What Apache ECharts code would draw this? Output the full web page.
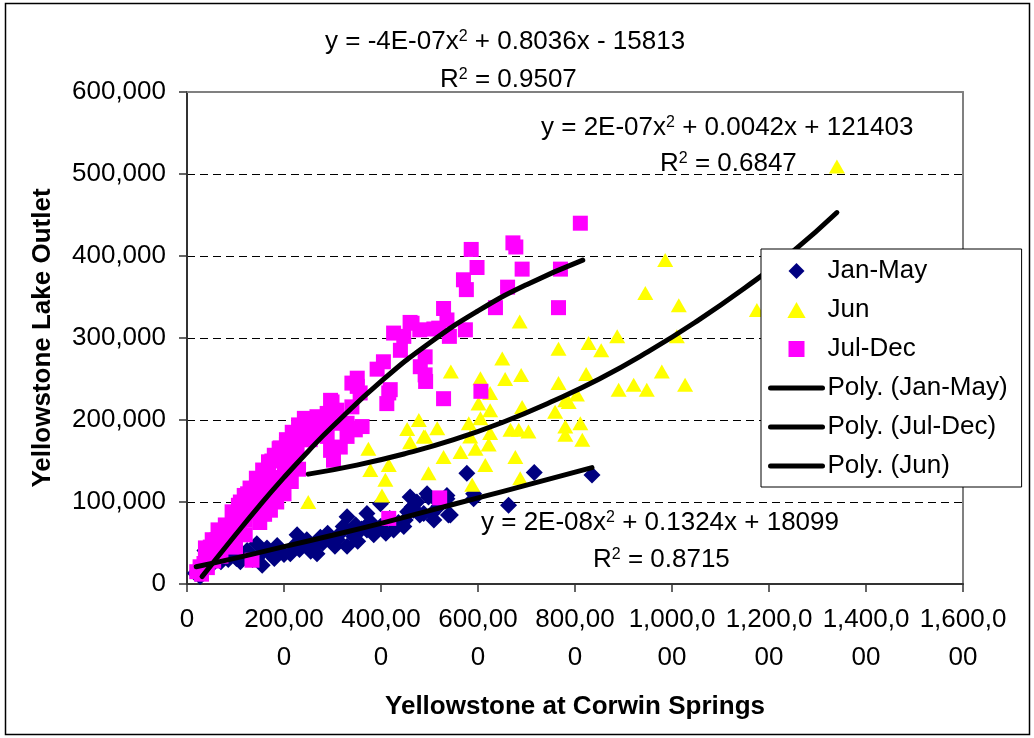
<!DOCTYPE html>
<html>
<head>
<meta charset="utf-8">
<script src="https://cdn.jsdelivr.net/npm/echarts@6/dist/echarts.min.js"></script>
<style>
html,body{margin:0;padding:0;background:#fff;}
#chart{width:1034px;height:738px;}
</style>
</head>
<body>
<div id="chart"></div>
<script>
// ---------- DATA ----------
const X_TICK_VALUES = [0, 200000, 400000, 600000, 800000, 1000000, 1200000, 1400000, 1600000];
const X_TICK_LABELS = ['0', '200,00\n0', '400,00\n0', '600,00\n0', '800,00\n0', '1,000,0\n00', '1,200,0\n00', '1,400,0\n00', '1,600,0\n00'];
const Y_TICK_VALUES = [0, 100000, 200000, 300000, 400000, 500000, 600000];
const Y_TICK_LABELS = ['0', '100,000', '200,000', '300,000', '400,000', '500,000', '600,000'];

const SERIES_NAMES = ['Jan-May', 'Jun', 'Jul-Dec'];
const TREND_NAMES = ['Poly. (Jan-May)', 'Poly. (Jul-Dec)', 'Poly. (Jun)'];

const janMay = [
  [17000,13000],[27000,9000],[24000,20000],[37000,41000],[44000,29000],[52000,24000],[62000,33000],
  [70000,27000],[85000,30000],[95000,36000],[110000,27000],[118000,33000],[124000,41000],[135000,30000],
  [144000,49000],[150000,35000],[155000,23000],[165000,44000],[172000,37000],[180000,31000],[192000,41000],
  [200000,36000],[213000,37000],[220000,46000],[227000,60000],[238000,50000],[247000,54000],[255000,40000],
  [261000,45000],[268000,37000],[280000,50000],[290000,62000],[296000,54000],[305000,46000],[316000,62000],
  [322000,70000],[330000,82000],[330000,46000],[338000,65000],[344000,58000],[352000,52000],[360000,67000],
  [371000,86000],[371000,66000],[385000,60000],[399000,70000],[399000,98000],[410000,62000],[426000,66000],
  [436000,75000],[447000,70000],[450000,78000],[460000,106000],[464000,94000],[467000,90000],[480000,84000],
  [488000,86000],[495000,110000],[498000,106000],[505000,86000],[509000,78000],[520000,95000],[536000,104000],
  [536000,108000],[539000,84000],[543000,84000],[577000,135000],[591000,110000],[591000,104000],[663000,96000],
  [716000,136000],[835000,133000],
  [78000,38000],[102000,31000],[128000,36000],[186000,47000],[232000,42000],[275000,57000],[310000,54000],
  [348000,72000],[378000,76000],[418000,80000],[455000,88000],[474000,100000],[514000,102000]
];

const jun = [
  [250000,100000],[374000,165000],[378000,139000],[409000,127000],[402000,108000],[416000,145000],
  [454000,189000],[478000,200000],[460000,173000],[488000,180000],[516000,190000],[491000,180000],
  [498000,135000],[529000,155000],[544000,259000],[564000,161000],[581000,196000],[584000,180000],
  [595000,165000],[588000,121000],[601000,220000],[605000,202000],[605000,251000],[615000,145000],
  [622000,170000],[625000,233000],[625000,212000],[625000,184000],[650000,275000],[656000,250000],
  [667000,188000],[677000,155000],[684000,188000],[686000,320000],[687000,129000],[689000,255000],
  [691000,216000],[704000,186000],[759000,210000],[766000,287000],[766000,245000],[780000,224000],
  [780000,192000],[780000,182000],[787000,222000],[804000,231000],[811000,196000],[815000,176000],
  [823000,256000],[828000,294000],[854000,285000],[887000,302000],[890000,237000],[921000,243000],
  [945000,355000],[948000,237000],[979000,259000],[986000,395000],[1010000,302000],[1014000,340000],
  [1027000,243000],[1175000,334000],[1340000,509000]
];

const julDec = [
  [20000,15000],[27000,21000],[30000,12000],[35000,25000],[38000,33000],[42000,20000],[48000,45000],
  [52000,35000],[55000,28000],[62000,54000],[66000,42000],[70000,34000],[76000,62000],[80000,50000],
  [89000,70000],[92000,58000],[95000,85000],[100000,45000],[103000,82000],[108000,68000],[110000,100000],
  [117000,94000],[120000,78000],[120000,60000],[125000,110000],[131000,102000],[134000,29000],[138000,88000],
  [144000,119000],[150000,100000],[150000,75000],[160000,112000],[160000,85000],[165000,127000],[168000,139000],
  [172000,90000],[175000,150000],[179000,115000],[185000,130000],[185000,100000],[190000,165000],[192000,151000],
  [199000,159000],[200000,110000],[205000,140000],[205000,170000],[213000,147000],[215000,125000],[220000,165000],
  [227000,167000],[230000,140000],[234000,184000],[247000,176000],[254000,192000],[258000,200000],[265000,185000],
  [268000,204000],[275000,192000],[289000,208000],[289000,180000],[296000,224000],[296000,163000],[299000,222000],
  [302000,196000],[302000,151000],[309000,212000],[316000,167000],[330000,196000],[330000,180000],[337000,190000],
  [340000,245000],[340000,216000],[347000,188000],[351000,251000],[351000,241000],[357000,233000],[361000,192000],
  [392000,262000],[405000,271000],[412000,220000],[416000,233000],[416000,80000],[419000,237000],[426000,306000],
  [440000,285000],[447000,302000],[460000,319000],[464000,318000],[480000,310000],[481000,265000],[491000,277000],
  [491000,255000],[492000,247000],[509000,311000],[519000,312000],[521000,105000],[529000,336000],[529000,226000],
  [536000,322000],[541000,302000],[570000,371000],[574000,310000],[576000,359000],[586000,408000],[598000,386000],
  [606000,235000],[636000,337000],[661000,362000],[672000,416000],[678000,411000],[691000,384000],[766000,337000],
  [770000,384000],[811000,440000],
  [38000,44000],[52000,54000],[64000,66000],[79000,72000],[93000,88000],[106000,96000],[118000,108000],
  [130000,117000],[143000,129000],[156000,139000],[168000,149000],[180000,157000],[192000,166000],[205000,176000],
  [217000,185000],[230000,194000],[242000,202000],[85000,54000],[102000,66000],[141000,88000],[156000,102000],
  [172000,112000],[188000,127000],[201000,139000],[213000,151000],[225000,161000],[254000,176000],[275000,188000]
];

// trend lines
const trendJanMay = [[19000,21000],[100000,31500],[200000,45500],[300000,59500],[400000,74000],[500000,89500],[600000,105000],[700000,120500],[835000,142000]];
const trendJulDec = [[31000,9000],[100000,60000],[150000,96000],[200000,130000],[250000,162000],[300000,192000],[400000,247000],[500000,294000],[600000,333000],[700000,365000],[816000,395000]];
const trendJun = [[250000,134000],[350000,145000],[450000,159000],[550000,176000],[650000,197000],[750000,222000],[850000,250000],[950000,283000],[1050000,320000],[1150000,361000],[1250000,406000],[1340000,453000]];

const EQUATIONS = [
  ['y = -4E-07x{s|2} + 0.8036x - 15813', 'R{s|2} = 0.9507'],
  ['y = 2E-07x{s|2} + 0.0042x + 121403', 'R{s|2} = 0.6847'],
  ['y = 2E-08x{s|2} + 0.1324x + 18099', 'R{s|2} = 0.8715']
];

// ---------- CHART ----------
const FONT = "'Liberation Sans', Arial, sans-serif";
const FS = 26;
const chart = echarts.init(document.getElementById('chart'), null, {renderer: 'canvas'});

function eqText(txt, x, y) {
  return {
    type: 'text', x: x, y: y, z: 100,
    style: {
      text: txt, fill: '#000', font: FS + 'px ' + FONT,
      align: 'left', verticalAlign: 'middle',
      rich: { s: { fontSize: 16, fontFamily: FONT, verticalAlign: 'top', fill: '#000' } }
    }
  };
}

const trendLine = (name, data) => ({
  name: name, type: 'line', data: data, smooth: true, symbol: 'none', z: 5,
  lineStyle: {color: '#000', width: 5, cap: 'round'},
  itemStyle: {color: '#000'},
  emphasis: {disabled: true}
});

const trendLegendItem = name => ({
  name: name,
  itemStyle: {color: 'rgba(0,0,0,0)', borderWidth: 0},
  lineStyle: {color: '#000', width: 5, cap: 'round'}
});

// legend marker shapes (kept square by symbolKeepAspect)
const ICON_DIAMOND = 'path://M7,0L14,7L7,14L0,7Z';
const ICON_TRIANGLE = 'path://M8,0L16,14L0,14Z';
const ICON_SQUARE = 'path://M0,0H14V14H0Z';

const option = {
  animation: false,
  backgroundColor: '#fff',
  textStyle: {fontFamily: FONT},
  grid: {left: 187, right: 71, top: 92, bottom: 154, containLabel: false},
  xAxis: [{
    type: 'value', min: 0, max: 1600000, interval: 200000,
    axisLine: {show: true, onZero: false, lineStyle: {color: '#333', width: 2}},
    axisTick: {show: true, inside: false, length: 8, lineStyle: {color: '#333', width: 1.5}},
    axisLabel: {
      formatter: v => X_TICK_LABELS[X_TICK_VALUES.indexOf(v)],
      margin: 17, fontSize: FS, lineHeight: 38, color: '#000', fontFamily: FONT, align: 'center'
    },
    splitLine: {show: false},
    name: 'Yellowstone at Corwin Springs', nameLocation: 'middle', nameGap: 110,
    nameTextStyle: {fontWeight: 'bold', fontSize: FS, color: '#000', fontFamily: FONT}
  }, {
    type: 'value', position: 'top', min: 0, max: 1600000, interval: 200000,
    axisLine: {show: true, onZero: false, lineStyle: {color: '#808080', width: 2}},
    axisTick: {show: false}, axisLabel: {show: false}, splitLine: {show: false}
  }],
  yAxis: [{
    type: 'value', min: 0, max: 600000, interval: 100000,
    axisLine: {show: true, onZero: false, lineStyle: {color: '#333', width: 2}},
    axisTick: {show: true, inside: false, length: 8, lineStyle: {color: '#333', width: 1.5}},
    axisLabel: {
      formatter: v => Y_TICK_LABELS[Y_TICK_VALUES.indexOf(v)],
      margin: 21, fontSize: FS, color: '#000', fontFamily: FONT
    },
    splitLine: {show: true, lineStyle: {color: '#000', width: 1, type: [8, 5]}},
    name: 'Yellowstone Lake Outlet', nameLocation: 'middle', nameGap: 131,
    nameTextStyle: {fontWeight: 'bold', fontSize: FS, color: '#000', fontFamily: FONT}
  }, {
    type: 'value', position: 'right', min: 0, max: 600000, interval: 100000,
    axisLine: {show: true, onZero: false, lineStyle: {color: '#808080', width: 2}},
    axisTick: {show: false}, axisLabel: {show: false}, splitLine: {show: false}
  }],
  legend: {
    orient: 'vertical', left: 761, top: 249,
    data: [
      {name: SERIES_NAMES[0], icon: ICON_DIAMOND},
      {name: SERIES_NAMES[1], icon: ICON_TRIANGLE},
      {name: SERIES_NAMES[2], icon: ICON_SQUARE},
      trendLegendItem(TREND_NAMES[0]), trendLegendItem(TREND_NAMES[1]), trendLegendItem(TREND_NAMES[2])
    ],
    itemWidth: 52, itemHeight: 16, itemGap: 7,
    symbolKeepAspect: true,
    padding: [6, 14, 5, 7],
    backgroundColor: '#fff', borderColor: '#000', borderWidth: 1, borderRadius: 0,
    textStyle: {fontSize: FS, lineHeight: 32, color: '#000', fontFamily: FONT},
    selectedMode: false, z: 20
  },
  series: [
    {name: SERIES_NAMES[0], type: 'scatter', data: janMay, symbol: 'diamond', symbolSize: [17, 17],
     itemStyle: {color: '#000080', opacity: 1}, z: 2},
    {name: SERIES_NAMES[1], type: 'scatter', data: jun, symbol: 'triangle', symbolSize: [16, 14],
     itemStyle: {color: '#FFFF00', opacity: 1}, z: 3},
    {name: SERIES_NAMES[2], type: 'scatter', data: julDec, symbol: 'rect', symbolSize: [15, 15],
     itemStyle: {color: '#FF00FF', opacity: 1}, z: 4},
    trendLine(TREND_NAMES[0], trendJanMay),
    trendLine(TREND_NAMES[1], trendJulDec),
    trendLine(TREND_NAMES[2], trendJun)
  ],
  graphic: [
    {type: 'rect', shape: {x: 5.5, y: 3.5, width: 1024, height: 731}, style: {fill: 'none', stroke: '#000', lineWidth: 1.5}, z: 100},
    eqText(EQUATIONS[0][0], 325, 42), eqText(EQUATIONS[0][1], 440, 80),
    eqText(EQUATIONS[1][0], 541, 128), eqText(EQUATIONS[1][1], 660, 164),
    eqText(EQUATIONS[2][0], 481, 523), eqText(EQUATIONS[2][1], 593, 560)
  ]
};
chart.setOption(option);
</script>
</body>
</html>
